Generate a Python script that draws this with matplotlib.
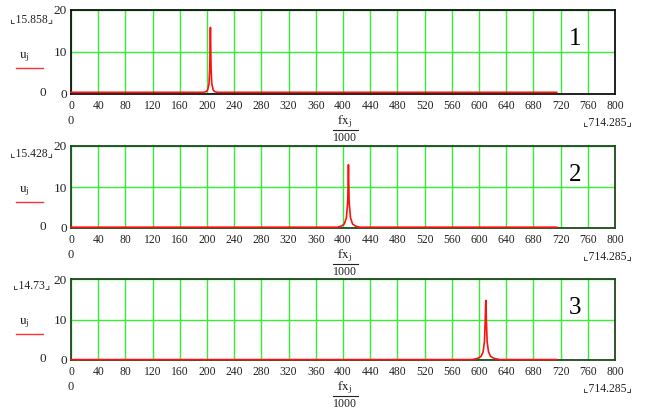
import matplotlib
matplotlib.use("Agg")
import matplotlib.pyplot as plt
from matplotlib.lines import Line2D

plt.rcParams['mathtext.fontset'] = 'stix'

SERIF = ['Liberation Serif', 'DejaVu Serif', 'DejaVu Sans']

# ---- data ----
x_ticks = list(range(0, 801, 40))
y_ticks = [0, 10, 20]
fx_max = 714.285

fx1 = [0, 195, 199, 201, 203, 204, 205, 206, 207, 209, 211, 215, fx_max]
u1 = [0.4, 0.4, 0.6, 1.0, 2.5, 6.0, 15.858, 6.0, 2.5, 1.0, 0.6, 0.4, 0.4]

fx2 = [0, 392, 398, 402, 405, 407, 408, 409, 411, 414, 418, 424, fx_max]
u2 = [0.2, 0.2, 0.5, 1.0, 2.5, 6.5, 15.428, 6.5, 2.5, 1.0, 0.5, 0.2, 0.2]

fx3 = [0, 590, 598, 603, 606, 608, 609, 610, 611, 612, 614, 617, 622, 630, fx_max]
u3 = [0.1, 0.1, 0.4, 0.9, 2.0, 4.5, 9.0, 14.73, 9.0, 4.5, 2.0, 0.9, 0.4, 0.1, 0.1]

peak_labels = ['15.858', '15.428', '14.73']
panel_ids = ['1', '2', '3']
series = [(fx1, u1), (fx2, u2), (fx3, u3)]

W, H = 650, 409
fig = plt.figure(figsize=(W / 100, H / 100), dpi=100)

# panel pixel boxes: (top, bottom)
boxes = [(10, 94), (146, 228), (279, 360)]
left_px, right_px = 71, 615
frame_colors = ['#101010', '#1e4a1e', '#1e4a1e']
TXT = '#222222'


def fy(py):
    return 1 - py / H


def fx_(px):
    return px / W


for i, ((top, bot), (xs, ys)) in enumerate(zip(boxes, series)):
    ax = fig.add_axes([fx_(left_px), fy(bot), (right_px - left_px) / W, (bot - top) / H])
    ax.set_xlim(0, 800)
    ax.set_ylim(0, 20)
    ax.set_xticks(x_ticks)
    ax.set_yticks(y_ticks)
    ax.grid(True, color='#33ee33', lw=1.0)
    ax.set_axisbelow(True)
    ax.tick_params(length=0, pad=4)
    ax.tick_params(axis='y', pad=3)
    ax.set_xticklabels([str(t) for t in x_ticks], fontsize=8.4, family=SERIF, color=TXT)
    ax.set_yticklabels([str(t) for t in y_ticks], fontsize=9.5, family=SERIF, color=TXT)
    for sp in ax.spines.values():
        sp.set_color(frame_colors[i])
        sp.set_linewidth(1.3)
    ax.plot(xs, ys, color='#ff1010', lw=1.2, clip_on=False, zorder=3)
    # panel number
    fig.text(fx_(575), fy(top + 29), panel_ids[i], fontsize=18, family=SERIF,
             ha='center', va='center', color='black')

    # left annotations
    fig.text(fx_(32), fy(bot - 75), '\u231e' + peak_labels[i] + '\u231f', fontsize=8.4,
             family=SERIF, ha='center', va='center', color=TXT)
    fig.text(fx_(24), fy(bot - 37), r'$\mathrm{u_j}$', fontsize=9.5,
             ha='center', va='center', color=TXT)
    fig.add_artist(Line2D([fx_(16), fx_(43)], [fy(bot - 26), fy(bot - 26)],
                          color='#ff3030', lw=1.0, transform=fig.transFigure))
    fig.text(fx_(43), fy(bot - 1), '0', fontsize=9.5, family=SERIF,
             ha='center', va='center', color=TXT)

    # bottom annotations
    fig.text(fx_(71), fy(bot + 27), '0', fontsize=9, family=SERIF,
             ha='center', va='center', color=TXT)
    fig.text(fx_(608), fy(bot + 28), '\u231e' + '714.285' + '\u231f', fontsize=8.4,
             family=SERIF, ha='center', va='center', color=TXT)
    fig.text(fx_(345), fy(bot + 28), r'$\mathrm{fx_j}$', fontsize=9.5,
             ha='center', va='center', color=TXT)
    fig.add_artist(Line2D([fx_(333), fx_(358)], [fy(bot + 36), fy(bot + 36)],
                          color=TXT, lw=0.8, transform=fig.transFigure))
    fig.text(fx_(345), fy(bot + 44), '1000', fontsize=8.6, family=SERIF,
             ha='center', va='center', color=TXT)

fig.savefig('out.png', dpi=100)
